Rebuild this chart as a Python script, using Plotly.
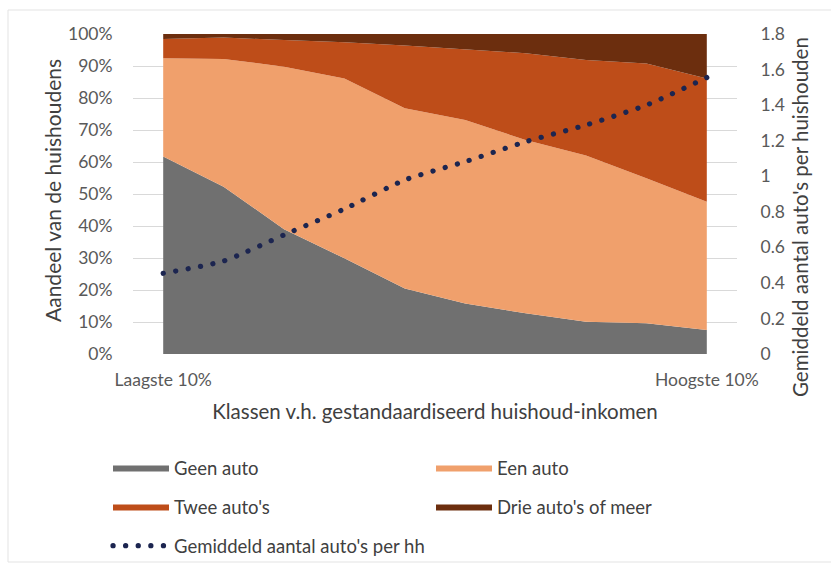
import plotly.graph_objects as go

# ---- data ----
klassen = list(range(10))  # income deciles, lowest -> highest
tick_vals = [0, 9]
tick_text = ["Laagste 10%", "Hoogste 10%"]

geen_auto = [61.7, 52.3, 39.0, 29.9, 20.5, 15.8, 12.7, 10.1, 9.6, 7.5]
een_auto = [30.7, 39.9, 50.8, 56.2, 56.3, 57.3, 54.2, 51.9, 45.3, 40.1]
twee_autos = [6.0, 6.7, 8.3, 11.3, 19.6, 22.2, 27.1, 29.9, 35.9, 38.5]
drie_autos = [1.6, 1.1, 1.9, 2.6, 3.6, 4.7, 6.0, 8.1, 9.2, 13.9]
gem_autos = [0.454, 0.523, 0.67, 0.816, 0.979, 1.082, 1.194, 1.288, 1.40, 1.555]

names = ["Geen auto", "Een auto", "Twee auto's", "Drie auto's of meer"]
colors = ["#707070", "#f0a06c", "#be4d19", "#6c2e0e"]
legend_of = ["legend", "legend2", "legend", "legend2"]
line_name = "Gemiddeld aantal auto's per hh"
line_color = "#1c2550"

x_title = "Klassen v.h. gestandaardiseerd huishoud-inkomen"
y_title = "Aandeel van de huishoudens"
y2_title = "Gemiddeld aantal auto's per huishouden"

FONT = "Lato, 'Open Sans', sans-serif"
TICK_COLOR = "#595959"
TITLE_COLOR = "#404040"

fig = go.Figure()
for vals, name, col, lg in zip([geen_auto, een_auto, twee_autos, drie_autos], names, colors, legend_of):
    fig.add_trace(go.Scatter(
        x=klassen, y=vals, name=name, stackgroup="one",
        mode="lines", line=dict(width=0, color=col), fillcolor=col,
        legend=lg, legendgroup=name, hoverinfo="skip",
    ))

fig.add_trace(go.Scatter(
    x=klassen, y=gem_autos, name=line_name, yaxis="y2", mode="lines",
    line=dict(color=line_color, width=5.2, dash="0.1px,12.5px", shape="spline", smoothing=0.6),
    legend="legend", legendgroup="line", hoverinfo="skip",
))

W, H = 831, 567
L, R, T, B = 133, 737, 34, 354
pw, ph = R - L, B - T

def px(x):
    return (x - L) / pw

def py(y):
    return (B - y) / ph

TICK_SIZE = 17.5
TITLE_SIZE = 20.5
LEG_SIZE = 18.5

fig.update_layout(
    width=W, height=H,
    margin=dict(l=L, r=W - R, t=T, b=H - B, pad=0, autoexpand=False),
    paper_bgcolor="white", plot_bgcolor="white",
    font=dict(family=FONT, size=TICK_SIZE, color=TICK_COLOR),
    showlegend=True,
    xaxis=dict(
        range=[-0.5, 9.5], tickmode="array", tickvals=tick_vals, ticktext=tick_text,
        showgrid=False, zeroline=False, showline=False,
        ticks="outside", ticklen=0, ticklabelstandoff=10,
        tickfont=dict(size=TICK_SIZE, color=TICK_COLOR),
        title=dict(text=x_title, font=dict(size=TITLE_SIZE, color=TITLE_COLOR), standoff=15),
        fixedrange=True,
    ),
    yaxis=dict(
        range=[0, 100], tickvals=list(range(0, 101, 10)),
        ticktext=[f"{v}%" for v in range(0, 101, 10)],
        showgrid=True, gridcolor="#d9d9d9", gridwidth=1, zeroline=False, showline=False,
        ticks="outside", ticklen=0, ticklabelstandoff=16,
        tickfont=dict(size=TICK_SIZE, color=TICK_COLOR),
        fixedrange=True,
    ),
    yaxis2=dict(
        overlaying="y", side="right", range=[0, 1.8],
        tickvals=[0, 0.2, 0.4, 0.6, 0.8, 1, 1.2, 1.4, 1.6, 1.8],
        ticktext=["0", "0.2", "0.4", "0.6", "0.8", "1", "1.2", "1.4", "1.6", "1.8"],
        showgrid=False, zeroline=False, showline=False,
        ticks="outside", ticklen=0, ticklabelstandoff=19,
        tickfont=dict(size=TICK_SIZE, color=TICK_COLOR),
        fixedrange=True,
    ),
    legend=dict(
        xref="container", yref="container",
        x=108 / W, y=1 - 449 / H, xanchor="left", yanchor="top", orientation="v",
        itemwidth=56, tracegroupgap=12, traceorder="grouped",
        font=dict(size=LEG_SIZE, color=TITLE_COLOR), bgcolor="rgba(0,0,0,0)",
    ),
    legend2=dict(
        xref="container", yref="container",
        x=431 / W, y=1 - 449 / H, xanchor="left", yanchor="top", orientation="v",
        itemwidth=56, tracegroupgap=12, traceorder="grouped",
        font=dict(size=LEG_SIZE, color=TITLE_COLOR), bgcolor="rgba(0,0,0,0)",
    ),
    annotations=[
        dict(text=y_title, xref="paper", yref="paper", x=px(52), y=py(191),
             xanchor="center", yanchor="middle", textangle=-90, showarrow=False,
             font=dict(size=21, color=TITLE_COLOR)),
        dict(text=y2_title, xref="paper", yref="paper", x=px(800), y=py(217),
             xanchor="center", yanchor="middle", textangle=-90, showarrow=False,
             font=dict(size=20.5, color=TITLE_COLOR)),
    ],
    shapes=[dict(
        type="rect", xref="paper", yref="paper",
        x0=px(8), x1=px(840), y0=py(562), y1=py(10),
        line=dict(color="#e3e3e3", width=1), fillcolor="rgba(0,0,0,0)", layer="below",
    )],
)

post = """
document.documentElement.style.margin = '0';
document.body.style.margin = '0';
document.body.style.padding = '0';
var st = document.createElement('style');
st.innerHTML = '.js-line, .legendlines path { stroke-linecap: round !important; }';
document.head.appendChild(st);
"""

fig.write_html("out.html", post_script=post, config={"displayModeBar": False})
